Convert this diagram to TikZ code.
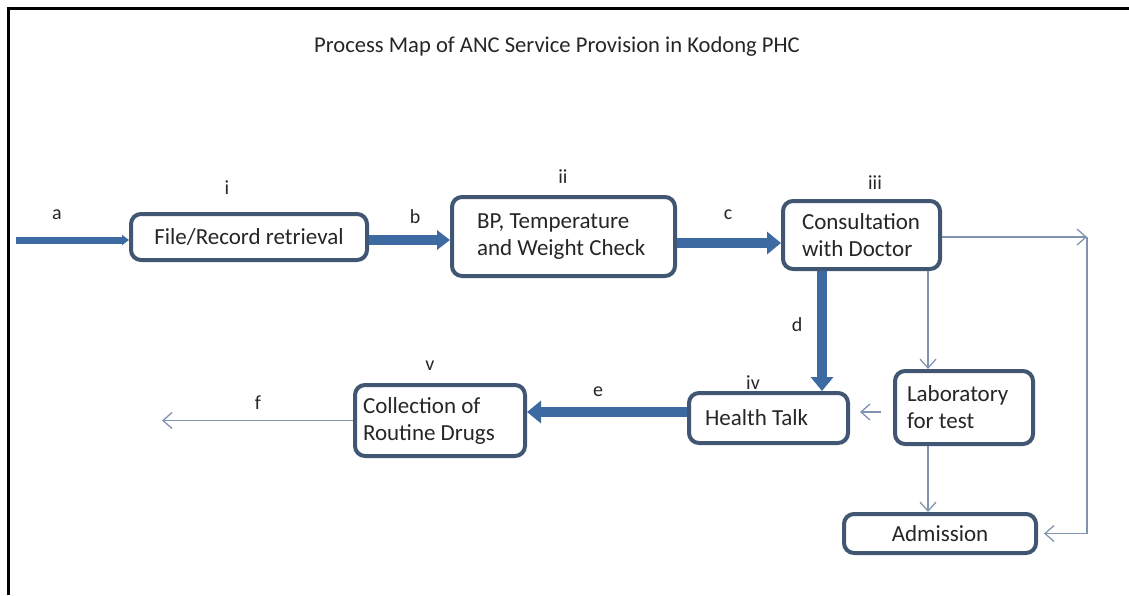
\documentclass[tikz,border=0pt]{standalone}
\usepackage{fontspec}
\setmainfont{Carlito}
\usetikzlibrary{positioning}
\usetikzlibrary{calc}
\usetikzlibrary{arrows.meta}
\definecolor{boxline}{RGB}{64,86,115}
\definecolor{flowblue}{RGB}{62,106,162}
\definecolor{sideblue}{RGB}{128,148,176}

\begin{document}
\begin{tikzpicture}
			[
				x = 1pt, y = -1pt,
				process/.style = {rectangle, draw = boxline, line width = 4pt, rounded corners = 10pt, fill = white, font = \fontsize{23}{27}\selectfont, text = black!85},
				flow/.style = {draw = flowblue, line width = 10pt, -{Triangle[length = 14pt, width = 22pt]}},
				inflow/.style = {draw = flowblue, line width = 7pt, -{Triangle[length = 7pt, width = 10pt]}},
				side/.style = {draw = sideblue, line width = 1.3pt, -{Straight Barb[length = 9pt, width = 16pt]}},
				tag/.style = {font = \fontsize{20}{24}\selectfont, text = black!85, inner sep = 0pt},
			]
			\useasboundingbox (0,0) rectangle (1129,595);
			\draw[line width = 3pt] (1129,8) -- (8,8) -- (8,595);
			\node (title) [tag, font = \fontsize{22.6}{27}\selectfont] at (557,47) {Process Map of ANC Service Provision in Kodong PHC};
			% process steps
			\node (file) [process, align = center, minimum width = 236pt, minimum height = 46pt] at (249,237) {File/Record retrieval};
			\node (bp) [process, align = flush left, text width = 173pt, inner xsep = 25pt, minimum height = 79pt] at (563.5,236.5) {BP, Temperature\\and Weight Check};
			\node (cons) [process, align = flush left, text width = 119pt, inner xsep = 19pt, minimum height = 68pt] at (861.5,235) {Consultation\\with Doctor};
			\node (talk) [process, align = flush left, text width = 127pt, inner xsep = 16pt, minimum height = 50pt] at (768.5,418) {Health Talk};
			\node (lab) [process, align = flush left, text width = 114pt, inner xsep = 12pt, minimum height = 73pt] at (964,407.5) {Laboratory\\for test};
			\node (drugs) [process, align = flush left, text width = 154pt, inner xsep = 8pt, minimum height = 71pt] at (440,420.5) {Collection of\\Routine Drugs};
			\node (adm) [process, align = center, minimum width = 192pt, minimum height = 39pt] at (940,533.5) {Admission};
			% free ends
			\coordinate (start) at (16,240);
			\coordinate (fend) at (162,420.5);
			\coordinate (corner) at (1087,237);
			% main flow
			\draw[inflow] (start) -- (start -| file.west);
			\draw[flow, -{Triangle[length = 13pt, width = 19pt]}] ([yshift = -3pt]file.east) -- ([yshift = -3pt]file.east -| bp.west);
			\draw[flow] ([yshift = -6.5pt]bp.east) -- ([yshift = -6.5pt]bp.east -| cons.west);
			\draw[flow] ([xshift = -39.5pt]cons.south) -- ([xshift = -39.5pt]cons.south |- talk.north);
			\draw[flow] ([yshift = 6pt]talk.west) -- ([yshift = 6pt]talk.west -| drugs.east);
			\draw[side] (drugs.west) -- (fend);
			% side paths
			\draw[side] ([yshift = -2pt]cons.east) -- (corner);
			\draw[side, shorten > = 6pt] (corner) |- (adm.east);
			\draw[side] ([xshift = 66.5pt]cons.south) -- ([xshift = 66.5pt]cons.south |- lab.north);
			\draw[side] ([xshift = -36pt]lab.south) -- ([xshift = -36pt]lab.south |- adm.north);
			\draw[side, shorten < = 12pt, shorten > = 10pt] ([yshift = -4.5pt]lab.west) -- ([yshift = -4.5pt]lab.west -| talk.east);
			% labels
			\node (la) [tag] at (57,215) {a};
			\node (lb) [tag] at (415,217) {b};
			\node (lc) [tag] at (728,215) {c};
			\node (ld) [tag] at (797,325) {d};
			\node (le) [tag] at (598,392) {e};
			\node (lf) [tag] at (258,403) {f};
			\node (li) [tag] at (227,188) {i};
			\node (lii) [tag] at (563,177) {ii};
			\node (liii) [tag] at (875,183) {iii};
			\node (liv) [tag] at (753,383) {iv};
			\node (lv) [tag] at (430,366) {v};
		\end{tikzpicture}
\end{document}
